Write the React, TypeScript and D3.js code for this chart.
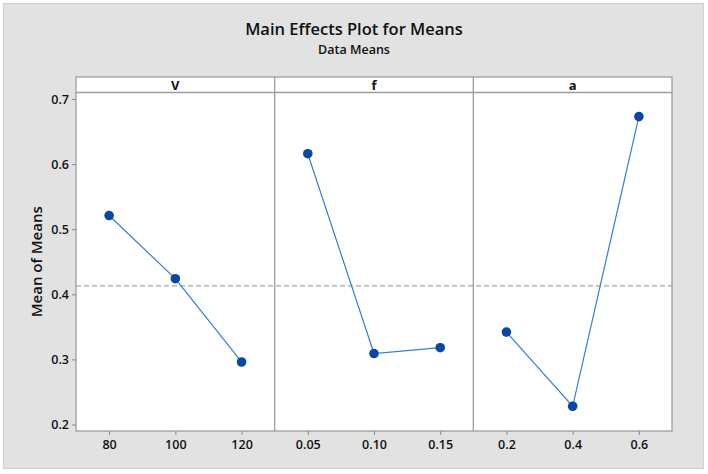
import { useEffect, useRef } from 'react';
import * as d3 from 'd3';

// factor names and levels
const factors = ['V', 'f', 'a'];
const levelsV = ['80', '100', '120'];
const levelsF = ['0.05', '0.10', '0.15'];
const levelsA = ['0.2', '0.4', '0.6'];
const meansV = [0.521, 0.424, 0.296];
const meansF = [0.616, 0.309, 0.318];
const meansA = [0.342, 0.228, 0.673];
const grandMean = 0.413;
const yTicks = [0.2, 0.3, 0.4, 0.5, 0.6, 0.7];

const FONT = "'Open Sans', 'Noto Sans', sans-serif";

export default function App() {
  const svgRef = useRef<SVGSVGElement>(null);

  useEffect(() => {
    if (!svgRef.current) return;
    const svg = d3.select(svgRef.current);
    svg.selectAll('*').remove();

    const width = 708;
    const plot = { left: 76, right: 672, top: 92.5, bottom: 431, stripTop: 77 };

    // background panel
    svg
      .append('rect')
      .attr('x', 3.5)
      .attr('y', 3.5)
      .attr('width', 700)
      .attr('height', 465)
      .attr('fill', '#e2e2e2')
      .attr('stroke', '#d2d2d2');

    // titles
    svg
      .append('text')
      .attr('x', width / 2)
      .attr('y', 35)
      .attr('text-anchor', 'middle')
      .attr('font-family', FONT)
      .attr('font-size', '16.5px')
      .attr('font-weight', 600)
      .attr('fill', '#111')
      .text('Main Effects Plot for Means');
    svg
      .append('text')
      .attr('x', width / 2)
      .attr('y', 54)
      .attr('text-anchor', 'middle')
      .attr('font-family', FONT)
      .attr('font-size', '12.5px')
      .attr('font-weight', 600)
      .attr('fill', '#111')
      .text('Data Means');

    const yScale = d3.scaleLinear().domain([0.19, 0.71]).range([plot.bottom, plot.top]);

    const panelScale = d3
      .scaleBand<string>()
      .domain(factors)
      .range([plot.left, plot.right])
      .paddingInner(0)
      .paddingOuter(0);
    const panelW = panelScale.bandwidth();

    // white plot area + strip
    svg
      .append('rect')
      .attr('x', plot.left)
      .attr('y', plot.stripTop)
      .attr('width', plot.right - plot.left)
      .attr('height', plot.bottom - plot.stripTop)
      .attr('fill', '#fff');

    // grand mean reference line
    svg
      .append('line')
      .attr('x1', plot.left)
      .attr('x2', plot.right)
      .attr('y1', yScale(grandMean))
      .attr('y2', yScale(grandMean))
      .attr('stroke', '#a8a8a8')
      .attr('stroke-width', 1.3)
      .attr('stroke-dasharray', '5,3');

    const panels = [
      { name: 'V', levels: levelsV, means: meansV },
      { name: 'f', levels: levelsF, means: meansF },
      { name: 'a', levels: levelsA, means: meansA },
    ];

    panels.forEach((p) => {
      const x0 = panelScale(p.name) || 0;
      const xScale = d3.scalePoint<string>().domain(p.levels).range([x0, x0 + panelW]).padding(0.5);

      // strip label
      svg
        .append('text')
        .attr('x', x0 + panelW / 2)
        .attr('y', plot.stripTop + 12.5)
        .attr('text-anchor', 'middle')
        .attr('font-family', FONT)
        .attr('font-size', '13px')
        .attr('font-weight', 700)
        .attr('fill', '#111')
        .text(p.name);

      // x axis
      const axis = svg
        .append('g')
        .attr('transform', `translate(0,${plot.bottom})`)
        .call(d3.axisBottom(xScale).tickSize(4).tickPadding(5));
      axis.select('.domain').remove();
      axis.selectAll('line').attr('stroke', '#888');
      axis
        .selectAll('text')
        .attr('font-family', FONT)
        .attr('font-size', '12.5px')
        .attr('font-weight', 600)
        .attr('fill', '#111');

      const pts = p.levels.map((l, i) => [xScale(l) || 0, yScale(p.means[i])] as [number, number]);

      svg
        .append('path')
        .attr('d', d3.line()(pts))
        .attr('fill', 'none')
        .attr('stroke', '#3a7cd0')
        .attr('stroke-width', 1.2);

      svg
        .selectAll(null)
        .data(pts)
        .enter()
        .append('circle')
        .attr('cx', (d) => d[0])
        .attr('cy', (d) => d[1])
        .attr('r', 4.8)
        .attr('fill', '#0a47a3');
    });

    // frames
    const frame = '#9d9d9d';
    svg
      .append('rect')
      .attr('x', plot.left)
      .attr('y', plot.stripTop)
      .attr('width', plot.right - plot.left)
      .attr('height', plot.bottom - plot.stripTop)
      .attr('fill', 'none')
      .attr('stroke', frame)
      .attr('stroke-width', 1.3);
    svg
      .append('line')
      .attr('x1', plot.left)
      .attr('x2', plot.right)
      .attr('y1', plot.top)
      .attr('y2', plot.top)
      .attr('stroke', frame)
      .attr('stroke-width', 1.3);
    factors.slice(1).forEach((f) => {
      const x = panelScale(f) || 0;
      svg
        .append('line')
        .attr('x1', x)
        .attr('x2', x)
        .attr('y1', plot.stripTop)
        .attr('y2', plot.bottom)
        .attr('stroke', frame)
        .attr('stroke-width', 1.3);
    });

    // y axis
    const yAxis = svg
      .append('g')
      .attr('transform', `translate(${plot.left},0)`)
      .call(
        d3
          .axisLeft(yScale)
          .tickValues(yTicks)
          .tickFormat(d3.format('.1f'))
          .tickSize(4)
          .tickPadding(3)
      );
    yAxis.select('.domain').remove();
    yAxis.selectAll('line').attr('stroke', '#888');
    yAxis
      .selectAll('text')
      .attr('font-family', FONT)
      .attr('font-size', '12.5px')
      .attr('font-weight', 600)
      .attr('fill', '#111');

    svg
      .append('text')
      .attr('transform', `translate(42,${(plot.top + plot.bottom) / 2}) rotate(-90)`)
      .attr('text-anchor', 'middle')
      .attr('font-family', FONT)
      .attr('font-size', '15px')
      .attr('font-weight', 600)
      .attr('fill', '#111')
      .text('Mean of Means');
  }, []);

  return (
    <div style={{ position: 'absolute', left: 0, top: 0 }}>
      <svg ref={svgRef} width={708} height={474} style={{ display: 'block' }} />
    </div>
  );
}
